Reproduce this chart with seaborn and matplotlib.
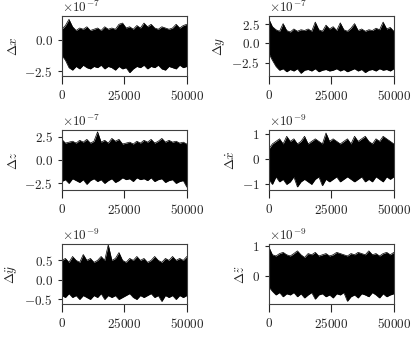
import numpy as np
import pandas as pd
import seaborn as sns
import matplotlib
matplotlib.use("Agg")
import matplotlib.pyplot as plt
from matplotlib.ticker import MultipleLocator

# envelope of each error signal (36 samples over 0..50000 steps)
steps = np.linspace(0, 50000, 36)

dx_upper = [0.9, 1.2, 1.7, 1.1, 0.8, 1.0, 0.9, 1.1, 0.8, 0.9, 1.0, 0.8, 1.1, 0.9, 1.0, 0.9, 1.3, 1.4,
            1.0, 1.1, 0.9, 1.2, 1.0, 1.4, 1.1, 1.3, 1.0, 0.9, 1.1, 1.0, 0.9, 1.0, 1.3, 1.0, 1.2, 1.3]
dx_lower = [-1.2, -1.6, -2.2, -2.4, -2.1, -2.3, -2.0, -2.2, -2.3, -2.1, -2.2, -2.0, -2.3, -2.1, -2.2, -2.4, -2.1, -2.3,
            -2.2, -2.6, -2.3, -2.1, -2.2, -2.0, -2.3, -2.1, -2.2, -2.0, -2.3, -2.4, -2.1, -2.2, -2.3, -2.0, -2.2, -2.1]

dy_upper = [3.2, 2.2, 1.8, 1.6, 2.6, 1.7, 1.5, 1.9, 1.6, 1.8, 1.7, 1.9, 1.6, 2.8, 1.8, 1.6, 2.4, 1.9,
            2.2, 1.7, 2.7, 1.8, 1.6, 2.0, 2.6, 1.7, 1.9, 1.6, 1.8, 1.7, 2.0, 1.8, 2.8, 1.9, 2.1, 1.6]
dy_lower = [-1.3, -2.2, -3.0, -3.5, -3.3, -3.7, -3.4, -3.6, -3.3, -3.9, -3.5, -3.4, -3.6, -3.3, -3.7, -3.5, -3.4, -3.6,
            -3.5, -3.3, -3.6, -3.4, -3.7, -3.5, -3.3, -3.6, -3.4, -3.8, -3.5, -3.4, -3.6, -3.3, -3.5, -3.4, -3.6, -3.3]

dz_upper = [2.2, 1.8, 1.9, 2.0, 1.8, 2.1, 1.9, 2.2, 1.8, 2.0, 3.0, 1.9, 2.1, 1.8, 2.3, 2.0, 2.2, 1.7,
            1.8, 1.9, 1.7, 2.0, 1.8, 2.1, 1.9, 2.2, 1.8, 2.0, 2.3, 1.9, 2.1, 1.9, 2.0, 1.8, 1.9, 1.7]
dz_lower = [-2.3, -2.1, -2.5, -2.0, -2.2, -2.4, -2.1, -2.6, -2.2, -2.0, -2.3, -2.1, -2.5, -2.2, -2.0, -2.4, -2.2, -1.9,
            -2.1, -2.0, -2.3, -1.9, -2.1, -2.0, -2.2, -1.9, -2.3, -2.1, -2.0, -2.4, -2.2, -2.1, -2.5, -2.3, -2.2, -2.9]

dxd_upper = [0.4, 0.6, 0.7, 0.8, 0.6, 0.9, 0.7, 0.8, 0.6, 0.7, 0.9, 0.6, 0.7, 0.8, 0.7, 0.6, 1.03, 0.7,
             0.8, 0.7, 0.6, 0.7, 0.8, 0.6, 0.9, 0.7, 0.8, 0.9, 0.7, 0.6, 0.8, 0.7, 0.9, 0.8, 0.7, 0.6]
dxd_lower = [-0.8, -1.0, -0.7, -0.9, -0.8, -1.0, -0.9, -0.7, -1.1, -0.9, -0.8, -0.9, -1.0, -0.8, -0.7, -1.05, -0.8, -0.9,
             -0.8, -0.7, -0.9, -0.8, -0.7, -0.8, -0.9, -0.8, -0.7, -0.9, -0.8, -0.9, -0.7, -0.8, -0.9, -0.7, -0.8, -0.7]

dydd_upper = [0.5, 0.55, 0.45, 0.6, 0.5, 0.45, 0.65, 0.5, 0.55, 0.45, 0.5, 0.6, 0.5, 0.9, 0.5, 0.55, 0.7, 0.5,
              0.45, 0.55, 0.5, 0.6, 0.5, 0.55, 0.45, 0.5, 0.6, 0.5, 0.45, 0.55, 0.5, 0.6, 0.5, 0.55, 0.5, 0.6]
dydd_lower = [-0.4, -0.45, -0.35, -0.45, -0.4, -0.5, -0.4, -0.45, -0.5, -0.4, -0.45, -0.35, -0.5, -0.4, -0.45, -0.4, -0.5, -0.45,
              -0.4, -0.35, -0.45, -0.5, -0.4, -0.45, -0.4, -0.35, -0.45, -0.4, -0.55, -0.4, -0.45, -0.4, -0.5, -0.4, -0.45, -0.4]

dzdd_upper = [0.98, 0.72, 0.68, 0.76, 0.8, 0.72, 0.68, 0.76, 0.85, 0.72, 0.63, 0.76, 0.72, 0.8, 0.68, 0.72, 0.76, 0.68,
              0.72, 0.8, 0.76, 0.72, 0.68, 0.76, 0.72, 0.8, 0.76, 0.72, 0.85, 0.72, 0.76, 0.68, 0.76, 0.8, 0.72, 0.8]
dzdd_lower = [-0.35, -0.5, -0.62, -0.54, -0.68, -0.58, -0.62, -0.54, -0.68, -0.58, -0.72, -0.62, -0.54, -0.76, -0.62, -0.58, -0.68, -0.62,
              -0.72, -0.58, -0.62, -0.54, -0.83, -0.68, -0.62, -0.72, -0.58, -0.62, -0.68, -0.54, -0.62, -0.72, -0.58, -0.68, -0.62, -0.58]

labels = [r"$\Delta x$", r"$\Delta y$", r"$\Delta z$",
          r"$\Delta \dot{x}$", r"$\Delta \ddot{y}$", r"$\Delta \ddot{z}$"]
exponents = [-7, -7, -7, -9, -9, -9]
tick_steps = [2.5, 2.5, 2.5, 1.0, 0.5, 1.0]
y_limits = [(-2.87, 1.97), (-4.25, 3.6), (-3.2, 3.2), (-1.22, 1.15), (-0.615, 0.92), (-0.92, 1.08)]
uppers = [dx_upper, dy_upper, dz_upper, dxd_upper, dydd_upper, dzdd_upper]
lowers = [dx_lower, dy_lower, dz_lower, dxd_lower, dydd_lower, dzdd_lower]

sns.set_style("ticks")
plt.rcParams.update({
    "font.family": "serif",
    "font.serif": ["cmr10"],
    "mathtext.fontset": "cm",
    "axes.formatter.use_mathtext": True,
    "axes.unicode_minus": False,
    "font.size": 9,
    "axes.edgecolor": "0.25",
    "axes.linewidth": 0.8,
})

fig, axes = plt.subplots(3, 2, figsize=(4.15, 3.4), dpi=100)
plt.subplots_adjust(left=0.149, right=0.949, top=0.953, bottom=0.106, wspace=0.656, hspace=0.9)

for ax, lab, ex, st, lim, up, lo in zip(axes.flat, labels, exponents, tick_steps, y_limits, uppers, lowers):
    sc = 10.0 ** ex
    up = np.array(up) * sc
    lo = np.array(lo) * sc
    df = pd.DataFrame({
        "step": np.concatenate([steps, steps]),
        "value": np.concatenate([up, lo]),
        "edge": ["upper"] * len(steps) + ["lower"] * len(steps),
    })
    ax.fill_between(steps, lo, up, color="black", lw=0)
    sns.lineplot(data=df, x="step", y="value", units="edge", estimator=None,
                 color="black", lw=0.5, ax=ax)
    ax.set_xlim(0, 50000)
    ax.set_ylim(lim[0] * sc, lim[1] * sc)
    ax.xaxis.set_major_locator(MultipleLocator(25000))
    ax.yaxis.set_major_locator(MultipleLocator(st * sc))
    ax.ticklabel_format(axis="y", style="sci", scilimits=(ex, ex), useMathText=True)
    ax.tick_params(axis="x", length=6, width=0.8, labelsize=9.5)
    ax.tick_params(axis="y", length=3, width=0.8, labelsize=9.5)
    ax.set_xlabel("")
    ax.set_ylabel(lab, fontsize=9.5, labelpad=3)
    ax.yaxis.get_offset_text().set_fontsize(9.5)

fig.savefig("out.png", dpi=100)
